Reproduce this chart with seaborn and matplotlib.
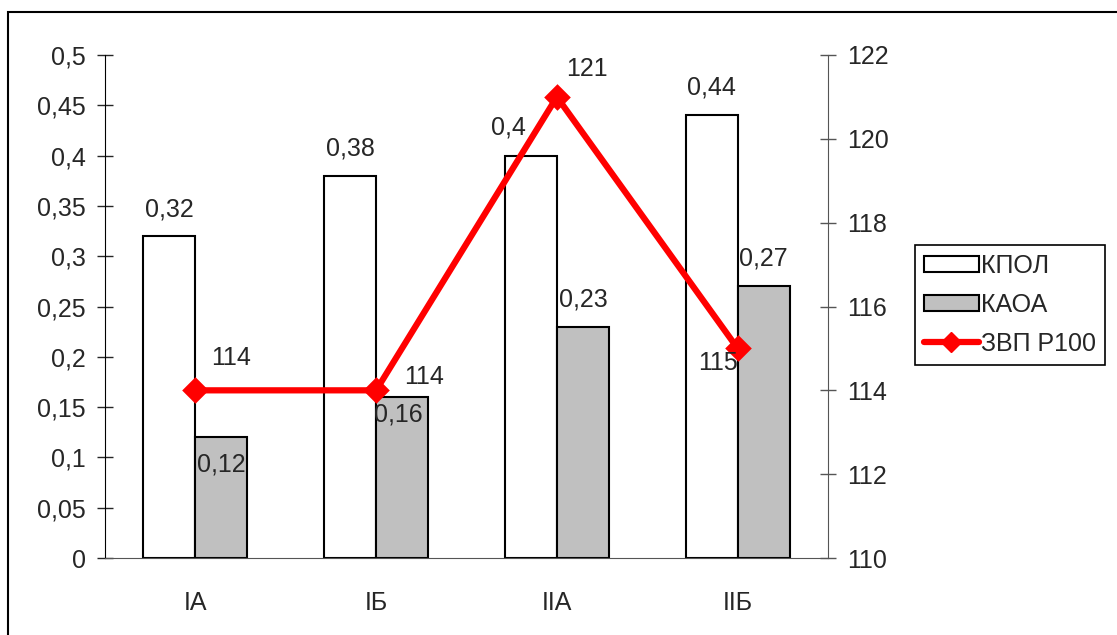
import pandas as pd
import numpy as np
import seaborn as sns
import matplotlib.pyplot as plt
from matplotlib.patches import Patch, Rectangle
from matplotlib.lines import Line2D
from matplotlib.ticker import FixedLocator, FuncFormatter

sns.set_style("white")
plt.rcParams['font.family'] = ['Liberation Sans', 'DejaVu Sans']

groups = ["IA", "IБ", "IIA", "IIБ"]
kpol = [0.32, 0.38, 0.40, 0.44]
kaoa = [0.12, 0.16, 0.23, 0.27]
zvp = [114, 114, 121, 115]
series_names = ["КПОЛ", "КАОА", "ЗВП Р100"]

# label offsets in pixels (dx, dy) relative to the mark
kpol_off = [(0, 27), (0, 27), (-22, 28), (0, 28)]
kaoa_off = [(0, -27), (-4, -17), (0, 27), (0, 28)]
zvp_off = [(36, 32), (48, 13), (30, 28), (-20, -15)]

df = pd.DataFrame({
    "group": groups * 2,
    "value": kpol + kaoa,
    "series": [series_names[0]] * 4 + [series_names[1]] * 4,
})

fig = plt.figure(figsize=(11.17, 6.35), dpi=100)
ax = fig.add_axes([105 / 1117, 1 - 558 / 635, (828 - 105) / 1117, (558 - 55) / 635])

sns.barplot(data=df, x="group", y="value", hue="series", ax=ax,
            palette={"КПОЛ": "white", "КАОА": "#c0c0c0"},
            width=0.576, gap=0, edgecolor="black", linewidth=1.5,
            errorbar=None, legend=False, saturation=1)

ax2 = ax.twinx()
sns.pointplot(x=groups, y=zvp, ax=ax2, color="red", markers="D",
              linestyles="-", markersize=10, linewidth=4.5, errorbar=None)

fs = 18
ax.set_xlim(-0.5, 3.5)
ax.set_ylim(0, 0.5)
ax.set_yticks(np.arange(0, 0.501, 0.05))
ax.yaxis.set_major_formatter(FuncFormatter(lambda v, p: f"{v:.2f}".rstrip("0").rstrip(".").replace(".", ",") if v else "0"))
ax2.set_ylim(110, 122)
ax2.set_yticks(range(110, 123, 2))
ax2.set_xlim(-0.5, 3.5)

ax.set_xticks([-0.5, 0.5, 1.5, 2.5, 3.5])
ax.set_xticklabels([])
ax.set_xticks([0, 1, 2, 3], labels=groups, minor=True)
ax.tick_params(axis="x", which="minor", length=0, pad=24, labelsize=fs)
ax.tick_params(axis="x", which="major", direction="inout", length=13, width=1, color="#555555")
ax.tick_params(axis="y", direction="inout", length=12, width=1, pad=8, labelsize=fs, left=True)
ax2.tick_params(axis="y", direction="inout", length=12, width=1, pad=8, labelsize=fs, right=True, color="#555555")
ax.set_xlabel("")
ax.set_ylabel("")
ax2.set_ylabel("")

for a in (ax, ax2):
    a.spines["top"].set_visible(False)
    a.grid(False)
ax.spines["left"].set_color("black")
ax.spines["bottom"].set_color("#555555")
ax2.spines["right"].set_color("#555555")
ax2.spines["left"].set_visible(False)
ax2.spines["bottom"].set_visible(False)
ax.spines["right"].set_visible(False)

# data labels
for i, v in enumerate(kpol):
    ax.annotate(f"{v:g}".replace(".", ","), (i - 0.144, v), xytext=kpol_off[i],
                textcoords="offset pixels", ha="center", va="center", fontsize=fs)
for i, v in enumerate(kaoa):
    ax.annotate(f"{v:g}".replace(".", ","), (i + 0.144, v), xytext=kaoa_off[i],
                textcoords="offset pixels", ha="center", va="center", fontsize=fs)
for i, v in enumerate(zvp):
    ax2.annotate(str(v), (i, v), xytext=zvp_off[i],
                 textcoords="offset pixels", ha="center", va="center", fontsize=fs)

handles = [
    Patch(facecolor="white", edgecolor="black", linewidth=1.5),
    Patch(facecolor="#c0c0c0", edgecolor="black", linewidth=1.5),
    Line2D([], [], color="red", lw=4.5, marker="D", markersize=10),
]
leg = fig.legend(handles, series_names, loc="upper left",
                 bbox_to_anchor=(915 / 1117, 1 - 245 / 635), fontsize=fs,
                 frameon=True, fancybox=False, framealpha=1, edgecolor="black",
                 handlelength=2.2, handleheight=0.6, handletextpad=0.1,
                 labelspacing=0.6, borderpad=0.35, borderaxespad=0)
leg.get_frame().set_linewidth(1.2)

fig.patches.append(Rectangle((8 / 1117, -0.1), 1.2, 1.1 - 12 / 635, transform=fig.transFigure,
                             fill=False, edgecolor="black", linewidth=1.5))

fig.savefig("out.png", dpi=100)
